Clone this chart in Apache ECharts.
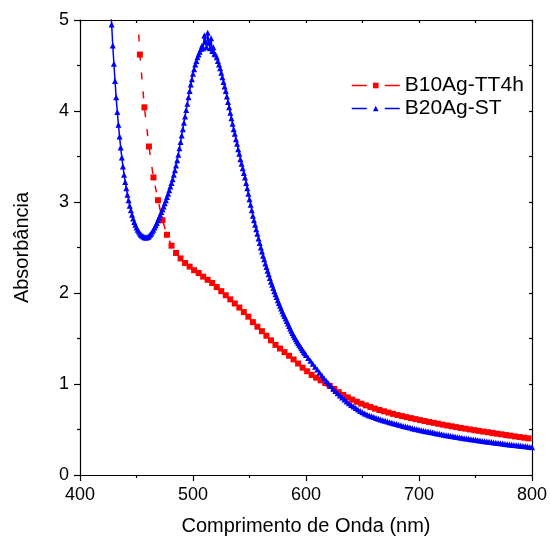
<!DOCTYPE html>
<html>
<head>
<meta charset="utf-8">
<script src="https://cdn.jsdelivr.net/npm/echarts@6/dist/echarts.min.js"></script>
<style>
html,body{margin:0;padding:0;background:#fff;}
#chart{width:550px;height:543px;}
</style>
</head>
<body>
<div id="chart"></div>
<script>
// Red series: B10Ag-TT4h (wavelength nm, absorbance)
var redWl = [452, 453, 457, 461, 465, 469, 473, 477, 481, 485, 489, 493, 497, 501, 505, 509, 513, 517, 521, 525, 529, 533, 537, 541, 545, 549, 553, 557, 561, 565, 569, 573, 577, 581, 585, 589, 593, 597, 601, 605, 609, 613, 617, 621, 625, 629, 633, 637, 641, 645, 649, 653, 657, 661, 665, 669, 673, 677, 681, 685, 689, 693, 697, 701, 705, 709, 713, 717, 721, 725, 729, 733, 737, 741, 745, 749, 753, 757, 761, 765, 769, 773, 777, 781, 785, 789, 793, 797, 801];
var redAbs = [4.84, 4.62, 4.04, 3.61, 3.27, 3.02, 2.80, 2.64, 2.52, 2.44, 2.38, 2.33, 2.29, 2.25, 2.22, 2.18, 2.145, 2.11, 2.065, 2.02, 1.975, 1.93, 1.885, 1.84, 1.79, 1.74, 1.68, 1.63, 1.58, 1.53, 1.48, 1.43, 1.39, 1.35, 1.31, 1.27, 1.225, 1.18, 1.14, 1.10, 1.07, 1.04, 1.01, 0.98, 0.945, 0.91, 0.88, 0.853, 0.828, 0.805, 0.784, 0.765, 0.747, 0.73, 0.714, 0.70, 0.686, 0.672, 0.659, 0.647, 0.636, 0.625, 0.614, 0.603, 0.593, 0.583, 0.573, 0.563, 0.553, 0.544, 0.535, 0.526, 0.517, 0.509, 0.501, 0.493, 0.485, 0.477, 0.47, 0.462, 0.454, 0.447, 0.439, 0.432, 0.424, 0.417, 0.41, 0.403, 0.396];

// Blue series: B20Ag-ST, 425..599 nm every 1 nm
var blueStart1 = 425, blueStep1 = 1;
var blueAbs1 = [5.70, 5.43, 5.18, 4.95, 4.72, 4.52, 4.33, 4.15, 3.99, 3.85,
 3.72, 3.60, 3.49, 3.39, 3.30, 3.22, 3.15, 3.08, 3.02, 2.96,
 2.91, 2.86, 2.82, 2.78, 2.75, 2.72, 2.695, 2.675, 2.655, 2.64,
 2.63, 2.62, 2.613, 2.61, 2.61, 2.615, 2.625, 2.64, 2.655, 2.675,
 2.695, 2.72, 2.745, 2.77, 2.80, 2.83, 2.86, 2.89, 2.92, 2.95,
 2.985, 3.02, 3.055, 3.09, 3.13, 3.17, 3.21, 3.25, 3.30, 3.35,
 3.40, 3.46, 3.52, 3.59, 3.66, 3.73, 3.80, 3.87, 3.94, 4.01,
 4.08, 4.15, 4.22, 4.29, 4.35, 4.41, 4.46, 4.51, 4.55, 4.59,
 4.62, 4.65, 4.68, 4.72, 4.69, 4.83, 4.76, 4.70, 4.86, 4.75,
 4.69, 4.80, 4.66, 4.70, 4.63, 4.62, 4.59, 4.55, 4.51, 4.47,
 4.42, 4.37, 4.32, 4.27, 4.22, 4.16, 4.10, 4.04, 3.98, 3.92,
 3.86, 3.80, 3.75, 3.69, 3.64, 3.58, 3.53, 3.47, 3.42, 3.37,
 3.32, 3.27, 3.21, 3.15, 3.09, 3.03, 2.97, 2.91, 2.85, 2.80,
 2.75, 2.70, 2.65, 2.60, 2.55, 2.50, 2.455, 2.41, 2.37, 2.325,
 2.285, 2.245, 2.205, 2.165, 2.125, 2.09, 2.055, 2.02, 1.985, 1.955,
 1.92, 1.89, 1.86, 1.83, 1.80, 1.773, 1.746, 1.719, 1.692, 1.665,
 1.638, 1.611, 1.585, 1.56, 1.535, 1.513, 1.492, 1.471, 1.451, 1.431,
 1.411, 1.392, 1.373, 1.355, 1.337];
// 600..800 nm every 2 nm
var blueStart2 = 600, blueStep2 = 2;
var blueAbs2 = [1.32, 1.287, 1.255, 1.223, 1.19, 1.158, 1.126, 1.095, 1.064, 1.034,
 1.005, 0.977, 0.95, 0.924, 0.899, 0.875, 0.852, 0.83, 0.809, 0.789,
 0.77, 0.752, 0.735, 0.719, 0.704, 0.69, 0.677, 0.665, 0.654, 0.645,
 0.636, 0.627, 0.619, 0.611, 0.603, 0.595, 0.588, 0.581, 0.574, 0.567,
 0.56, 0.553, 0.546, 0.539, 0.533, 0.527, 0.521, 0.515, 0.509, 0.503,
 0.497, 0.492, 0.487, 0.482, 0.477, 0.472, 0.467, 0.462, 0.457, 0.452,
 0.447, 0.442, 0.438, 0.434, 0.429, 0.425, 0.421, 0.417, 0.412, 0.408,
 0.404, 0.400, 0.397, 0.393, 0.389, 0.386, 0.382, 0.379, 0.375, 0.372,
 0.368, 0.365, 0.362, 0.358, 0.355, 0.352, 0.349, 0.345, 0.342, 0.339,
 0.336, 0.333, 0.330, 0.327, 0.324, 0.321, 0.318, 0.315, 0.312, 0.309, 0.306];

var seriesNames = ['B10Ag-TT4h', 'B20Ag-ST'];
var xName = 'Comprimento de Onda (nm)';
var yName = 'Absorbância';

var redData = redWl.map(function (w, i) {
  if (i === 0) return { value: [w, redAbs[i]], symbolSize: 0 };
  return [w, redAbs[i]];
});
var blueData = [];
blueAbs1.forEach(function (a, i) { blueData.push([blueStart1 + i * blueStep1, a]); });
blueAbs2.forEach(function (a, i) { blueData.push([blueStart2 + i * blueStep2, a]); });

var FONT = '"Liberation Sans", Arial, sans-serif';
var chart = echarts.init(document.getElementById('chart'), null, { renderer: 'canvas' });
var axisLine = { show: true, onZero: false, lineStyle: { color: '#000', width: 1.2 } };
chart.setOption({
  animation: false,
  backgroundColor: '#fff',
  grid: { left: 80, right: 14, top: 20, bottom: 68, containLabel: false },
  legend: {
    orient: 'vertical',
    left: 346,
    top: 70,
    itemWidth: 48,
    itemHeight: 7,
    itemGap: 2,
    lineStyle: { type: [15, 18], width: 1.5 },
    textStyle: { fontFamily: FONT, fontSize: 21, color: '#000', lineHeight: 21 },
    data: seriesNames
  },
  xAxis: [{
    type: 'value', min: 400, max: 800, interval: 100, position: 'bottom',
    name: xName, nameLocation: 'middle', nameGap: 41,
    nameTextStyle: { fontFamily: FONT, fontSize: 20, color: '#000' },
    axisLine: axisLine,
    axisTick: { show: true, inside: false, length: 6, lineStyle: { color: '#000', width: 1.2 } },
    minorTick: { show: true, splitNumber: 2, length: 3, lineStyle: { color: '#000', width: 1.2 } },
    axisLabel: { fontFamily: FONT, fontSize: 18, color: '#000', margin: 11 },
    splitLine: { show: false }
  }, {
    type: 'value', min: 400, max: 800, interval: 100, position: 'top',
    axisLine: axisLine,
    axisTick: { show: true, inside: true, length: 3, lineStyle: { color: '#000', width: 1.2 } },
    minorTick: { show: true, splitNumber: 2, length: 3, lineStyle: { color: '#000', width: 1.2 } },
    axisLabel: { show: false },
    splitLine: { show: false }
  }],
  yAxis: [{
    type: 'value', min: 0, max: 5, interval: 1, position: 'left',
    name: yName, nameLocation: 'middle', nameGap: 48,
    nameTextStyle: { fontFamily: FONT, fontSize: 20, color: '#000' },
    axisLine: axisLine,
    axisTick: { show: true, inside: false, length: 6, lineStyle: { color: '#000', width: 1.2 } },
    minorTick: { show: true, splitNumber: 2, length: 3, lineStyle: { color: '#000', width: 1.2 } },
    axisLabel: { fontFamily: FONT, fontSize: 18, color: '#000', margin: 11 },
    splitLine: { show: false }
  }, {
    type: 'value', min: 0, max: 5, interval: 1, position: 'right',
    axisLine: axisLine,
    axisTick: { show: true, inside: true, length: 3, lineStyle: { color: '#000', width: 1.2 } },
    minorTick: { show: true, splitNumber: 2, length: 3, lineStyle: { color: '#000', width: 1.2 } },
    axisLabel: { show: false },
    splitLine: { show: false }
  }],
  series: [{
    name: seriesNames[0], type: 'line', xAxisIndex: 0, yAxisIndex: 0,
    data: redData, clip: true,
    symbol: 'rect', symbolSize: 6, showSymbol: true,
    itemStyle: { color: '#ff0000' },
    lineStyle: { color: '#ff0000', width: 1.5, type: [7, 12] },
    emphasis: { disabled: true }
  }, {
    name: seriesNames[1], type: 'line', xAxisIndex: 0, yAxisIndex: 0,
    data: blueData, clip: true,
    symbol: 'triangle', symbolSize: 6, showSymbol: true,
    itemStyle: { color: '#0000ff' },
    lineStyle: { color: '#0000ff', width: 1.5, type: 'solid' },
    emphasis: { disabled: true }
  }]
});
</script>
</body>
</html>
